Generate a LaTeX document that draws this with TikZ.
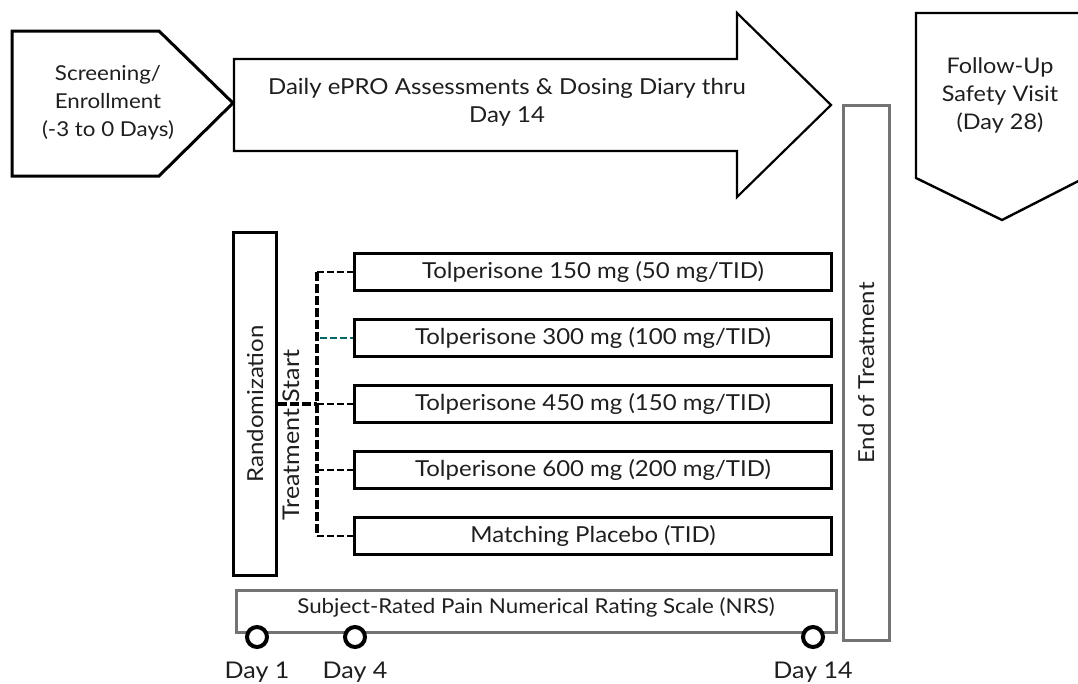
\documentclass[tikz,border=0pt]{standalone}
\usepackage{fontspec}
\setmainfont{Lato}[FakeStretch=1.09]
\newcommand{\fs}[1]{\fontsize{#1}{28}\selectfont}
\begin{document}
\begin{tikzpicture}[x=1pt,y=-1pt,
  txt/.style={font=\fs{22}, text=black!88, align=center},
  blk/.style={draw=black, line width=3pt},
  gry/.style={draw=black!55, line width=3pt},
  armbox/.style={blk, minimum width=477pt, minimum height=37pt, inner sep=0pt, txt},
  trunk/.style={line width=3.8pt, dash pattern=on 9pt off 3pt},
  branch/.style={line width=2.6pt, dash pattern=on 7pt off 3pt},
  visit/.style={circle, draw=black, line width=4pt, minimum size=20pt, inner sep=0pt, fill=white}
]
\useasboundingbox (0,0) rectangle (1078,683);
\fill[white] (0,0) rectangle (1078,683);

% screening pentagon
\draw[blk, line join=miter] (12,31) -- (159,31) -- (233,103) -- (159,176) -- (12,176) -- cycle;
\node[txt, font=\fs{20.5}] (scr) at (108,103) {Screening/\\Enrollment\\(-3 to 0 Days)};

% daily assessment arrow
\draw[blk, line width=2.2pt, line join=miter] (234,59) -- (737,59) -- (737,13) -- (831,105) -- (737,197) -- (737,151) -- (234,151) -- cycle;
\node[txt] (daily) at (507,102) {Daily ePRO Assessments \& Dosing Diary thru\\Day 14};

% follow-up pentagon (runs off the right edge)
\begin{scope}
\clip (0,0) rectangle (1078,683);
\draw[blk, line width=2.4pt, line join=miter] (916,13) -- (1100,13) -- (1100,170) -- (1002,220) -- (916,178) -- cycle;
\end{scope}
\node[txt, font=\fs{21.5}] (fu) at (1000,95) {Follow-Up\\Safety Visit\\(Day 28)};

% end of treatment bar
\node[gry, minimum width=46pt, minimum height=535pt, inner sep=0pt] (eot) at (866,373) {};
\node[txt, rotate=90] (eottxt) at (eot.center) {End of Treatment};

% randomization bar
\node[blk, minimum width=43pt, minimum height=343pt, inner sep=0pt] (rand) at (255,404) {};
\node[txt, rotate=90] (randtxt) at (rand.center) {Randomization};
\node[txt, rotate=90, font=\fs{23}] (tstart) at (291,435) {Treatment Start};

% treatment arms
\node[armbox] (a1) at (593,272) {Tolperisone 150 mg (50 mg/TID)};
\node[armbox] (a2) at (593,338) {Tolperisone 300 mg (100 mg/TID)};
\node[armbox] (a3) at (593,404) {Tolperisone 450 mg (150 mg/TID)};
\node[armbox] (a4) at (593,470) {Tolperisone 600 mg (200 mg/TID)};
\node[armbox] (a5) at (593,536) {Matching Placebo (TID)};

% branching connectors
\coordinate (top) at (317,272);
\coordinate (bot) at (317,536);
\coordinate (hub) at (317,404);
\draw[trunk] (rand.east |- hub) -- (hub);
\draw[trunk] (top) -- (bot);
\draw[branch] (top) -- (a1.west);
\draw[branch, draw=teal!80!black] (320,338) -- (a2.west);
\draw[branch] (hub) -- (a3.west);
\draw[branch] (317,470) -- (a4.west);
\draw[branch] (bot) -- (a5.west);

% NRS timeline
\node[gry, minimum width=600pt, minimum height=42pt, inner sep=0pt] (nrs) at (536,611) {};
\node[txt, font=\fs{20.5}] (nrstxt) at (536,607) {Subject-Rated Pain Numerical Rating Scale (NRS)};
\node[visit] (d1) at (257,637) {};
\node[visit] (d4) at (355,637) {};
\node[visit] (d14) at (813,637) {};
\node[txt, font=\fs{23}] (l1) at (d1 |- 0,672) {Day 1};
\node[txt, font=\fs{23}] (l4) at (d4 |- 0,672) {Day 4};
\node[txt, font=\fs{23}] (l14) at (d14 |- 0,672) {Day 14};
\end{tikzpicture}
\end{document}
